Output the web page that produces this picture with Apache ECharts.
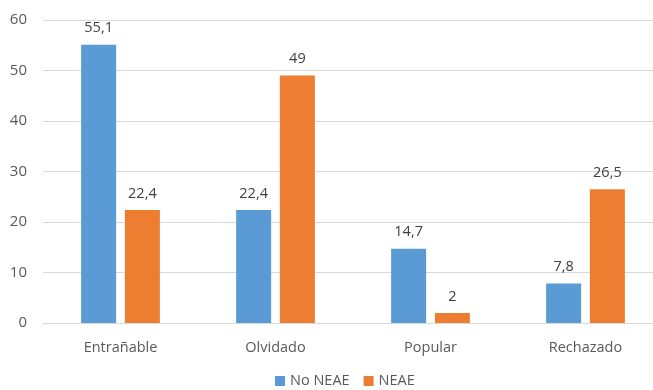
<!DOCTYPE html>
<html><head><meta charset="utf-8">
<script src="https://cdn.jsdelivr.net/npm/echarts@6/dist/echarts.min.js"></script>
<style>html,body{margin:0;padding:0;background:#fff;overflow:hidden}#c{width:653px;height:390px}</style>
</head><body><div id="c"></div>
<script>
const categories = ['Entrañable','Olvidado','Popular','Rechazado'];
const noNeae = [55.1, 22.4, 14.7, 7.8];
const neae = [22.4, 49, 2, 26.5];
const yTicks = [0,10,20,30,40,50,60];
const font = '"Open Sans", "Noto Sans", sans-serif';
const fmt = p => String(p.value).replace('.', ',');
const chart = echarts.init(document.getElementById('c'));
chart.setOption({
  animation:false,
  textStyle:{fontFamily:font},
  grid:{left:43,width:620,top:20,bottom:67,outerBoundsMode:'none',containLabel:false},
  legend:{top:372,left:275,padding:0,itemWidth:10,itemHeight:10,itemGap:14,icon:'rect',
    textStyle:{fontFamily:font,fontSize:14.5,color:'#595959',lineHeight:18}},
  xAxis:{type:'category',data:categories,
    axisLine:{lineStyle:{color:'#d9d9d9'}},axisTick:{show:false},
    axisLabel:{fontFamily:font,fontSize:14.5,color:'#595959',margin:17}},
  yAxis:{type:'value',min:yTicks[0],max:yTicks[yTicks.length-1],interval:10,
    axisLine:{show:false},axisTick:{show:false},
    splitLine:{lineStyle:{color:'#d9d9d9'}},
    axisLabel:{fontFamily:font,fontSize:15,color:'#595959',margin:16}},
  series:[
    {name:'No NEAE',type:'bar',data:noNeae,barWidth:35,barGap:'25%',
     itemStyle:{color:'#5b9bd5'},
     label:{show:true,position:'top',distance:9,formatter:fmt,fontFamily:font,fontSize:14.5,color:'#404040'}},
    {name:'NEAE',type:'bar',data:neae,barWidth:35,
     itemStyle:{color:'#ed7d31'},
     label:{show:true,position:'top',distance:9,formatter:fmt,fontFamily:font,fontSize:14.5,color:'#404040'}}
  ]
});
</script></body></html>
